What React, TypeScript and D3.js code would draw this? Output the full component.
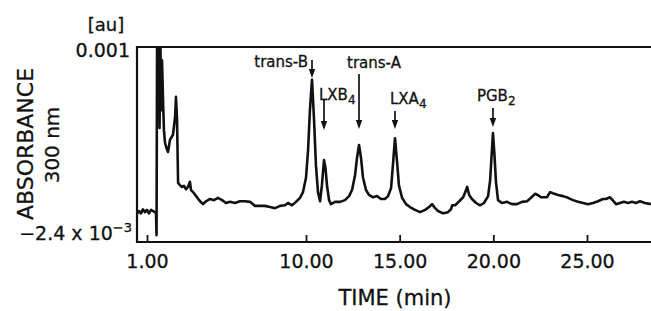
import React, { useRef, useEffect } from "react";
import * as d3 from "d3";

// chromatogram trace, time in min, absorbance in mAU (x10^-3 au)
const times = [
  0.43, 0.55, 0.66, 0.77, 0.89, 1.0, 1.11, 1.23, 1.34, 1.45, 1.51, 1.54, 1.57, 1.62, 1.67, 1.71, 1.76,
  1.81, 1.85, 1.91, 1.96, 2.02, 2.1, 2.19, 2.3, 2.47, 2.59, 2.64, 2.7, 2.76, 2.87, 2.98, 3.09, 3.21,
  3.32, 3.43, 3.49, 3.66, 3.83, 4.0, 4.17, 4.34, 4.57, 4.79, 5.02, 5.25, 5.47, 5.7, 5.98, 6.26, 6.55,
  6.83, 7.11, 7.4, 7.68, 7.96, 8.25, 8.53, 8.81, 8.98, 9.21, 9.43, 9.66, 9.83, 10.0, 10.11, 10.21,
  10.32, 10.43, 10.53, 10.64, 10.75, 10.85, 10.96, 11.04, 11.12, 11.23, 11.33, 11.55, 11.82, 12.08,
  12.3, 12.46, 12.62, 12.72, 12.83, 12.94, 13.04, 13.2, 13.36, 13.58, 13.79, 14.0, 14.21, 14.38,
  14.54, 14.64, 14.75, 14.86, 14.96, 15.13, 15.34, 15.55, 15.82, 16.09, 16.36, 16.57, 16.73, 16.89,
  17.05, 17.32, 17.58, 17.74, 17.8, 17.96, 18.18, 18.39, 18.55, 18.6, 18.71, 18.86, 19.08, 19.29,
  19.5, 19.72, 19.83, 19.91, 19.98, 20.06, 20.14, 20.25, 20.46, 20.73, 21.0, 21.26, 21.53, 21.8,
  22.01, 22.22, 22.38, 22.54, 22.7, 22.86, 23.03, 23.18, 23.45, 23.72, 23.99, 24.25, 24.52, 24.79,
  25.05, 25.32, 25.59, 25.85, 26.01, 26.23, 26.45, 26.55, 26.76, 26.97, 27.19, 27.4, 27.61, 27.83,
  28.09, 28.41,
];
const absorbance = [
  -1.91, -1.86, -1.9, -1.83, -1.88, -1.84, -1.9, -1.84, -1.86, -1.88, -1.9, -2.28, 1.12, -0.27, 1.03,
  -0.41, 1.03, -0.1, 0.77, 0.04, -0.45, -0.67, -0.76, -0.83, -0.62, -0.53, -0.22, 0.13, -0.27, -1.37,
  -1.41, -1.44, -1.42, -1.48, -1.44, -1.35, -1.49, -1.55, -1.62, -1.69, -1.74, -1.69, -1.65, -1.67,
  -1.63, -1.67, -1.72, -1.7, -1.72, -1.69, -1.69, -1.7, -1.77, -1.77, -1.77, -1.79, -1.81, -1.77,
  -1.76, -1.72, -1.76, -1.7, -1.63, -1.53, -1.28, -0.8, -0.1, 0.43, -0.27, -1.06, -1.53, -1.69,
  -1.41, -0.97, -1.11, -1.41, -1.67, -1.74, -1.7, -1.7, -1.67, -1.6, -1.49, -1.23, -0.94, -0.71,
  -0.94, -1.27, -1.49, -1.58, -1.62, -1.6, -1.65, -1.65, -1.6, -1.46, -1.06, -0.59, -1.0, -1.41,
  -1.63, -1.74, -1.79, -1.84, -1.88, -1.84, -1.79, -1.74, -1.81, -1.86, -1.9, -1.88, -1.83, -1.76,
  -1.76, -1.69, -1.62, -1.49, -1.44, -1.58, -1.65, -1.72, -1.76, -1.72, -1.6, -1.32, -0.88, -0.5,
  -0.88, -1.35, -1.67, -1.72, -1.7, -1.74, -1.74, -1.7, -1.69, -1.63, -1.56, -1.58, -1.62, -1.62,
  -1.62, -1.53, -1.55, -1.58, -1.6, -1.63, -1.67, -1.7, -1.72, -1.74, -1.72, -1.69, -1.65, -1.65,
  -1.62, -1.7, -1.74, -1.72, -1.7, -1.72, -1.7, -1.72, -1.69, -1.72, -1.74,
];

const xTickValues = [1, 10, 15, 20, 25];
const xTickLabels = ["1.00", "10.00", "15.00", "20.00", "25.00"];

const peakNames = ["trans-B", "LXB", "trans-A", "LXA", "PGB"];
const peakSubscripts = ["", "4", "", "4", "2"];
const peakTimes = [10.32, 10.96, 12.83, 14.75, 19.98];

const W = 651;
const H = 311;
const FONT = "'DejaVu Sans', sans-serif";
const INK = "#111";

const Chromatogram: React.FC = () => {
  const svgRef = useRef<SVGSVGElement | null>(null);

  useEffect(() => {
    if (!svgRef.current) return;
    const svg = d3.select(svgRef.current);
    svg.selectAll("*").remove();

    const margin = { top: 47, left: 137, bottom: 242, right: 651 };
    const innerW = margin.right - margin.left;
    const innerH = margin.bottom - margin.top;

    // the recorder axis is not linear before 10 min
    const x = d3.scaleLinear().domain([1, 10, 25]).range([10, 169, 450]);
    const y = d3.scaleLinear().domain([-2.4, 1.0]).range([innerH, 0]);

    const g = svg.append("g").attr("transform", `translate(${margin.left},${margin.top})`);

    g.append("clipPath").attr("id", "plotclip")
      .append("rect").attr("x", 0).attr("y", 0).attr("width", innerW).attr("height", innerH);

    // trace
    const pts: [number, number][] = times.map((t, i) => [t, absorbance[i]]);
    const line = d3.line<[number, number]>().x((d) => x(d[0])).y((d) => y(d[1]));
    g.append("path")
      .datum(pts)
      .attr("d", line)
      .attr("clip-path", "url(#plotclip)")
      .attr("fill", "none")
      .attr("stroke", INK)
      .attr("stroke-width", 2.6)
      .attr("stroke-linejoin", "round");

    // frame: top, left, bottom
    g.append("path")
      .attr("d", `M${innerW},0H0V${innerH}H${innerW}`)
      .attr("stroke", INK).attr("stroke-width", 2.2).attr("fill", "none");

    // x axis
    const ax = g.append("g")
      .attr("transform", `translate(0,${innerH})`)
      .call(
        d3.axisBottom(x)
          .tickValues(xTickValues)
          .tickSize(-7)
          .tickFormat((_, i) => xTickLabels[i])
      );
    ax.select(".domain").remove();
    ax.selectAll("line").attr("stroke", INK).attr("stroke-width", 1.8);
    ax.selectAll("text")
      .attr("font-family", FONT)
      .attr("font-size", 19)
      .attr("fill", INK)
      .attr("stroke", INK).attr("stroke-width", 0.3)
      .attr("y", 26)
      .attr("dy", 0);

    const label = (sel: d3.Selection<SVGTextElement, unknown, null, undefined>, size: number) =>
      sel.attr("font-family", FONT).attr("font-size", size)
        .attr("fill", INK).attr("stroke", INK).attr("stroke-width", 0.3);

    // y labels
    label(svg.append("text"), 19)
      .attr("x", 130).attr("y", 57)
      .attr("text-anchor", "end")
      .text(d3.format(".3f")(y.domain()[1] / 1000));
    const yMin = label(svg.append("text"), 19)
      .attr("x", 132).attr("y", 240)
      .attr("text-anchor", "end");
    yMin.append("tspan").text(`−${Math.abs(y.domain()[0])} x 10`);
    yMin.append("tspan").attr("dy", -8).attr("font-size", 13).text("−3");

    label(svg.append("text"), 18)
      .attr("x", 106).attr("y", 31)
      .attr("text-anchor", "middle")
      .text("[au]");

    label(svg.append("text"), 22)
      .attr("transform", "translate(33,144) rotate(-90)")
      .attr("text-anchor", "middle")
      .text("ABSORBANCE");
    label(svg.append("text"), 20)
      .attr("transform", "translate(59,145) rotate(-90)")
      .attr("text-anchor", "middle")
      .text("300 nm");

    label(svg.append("text"), 21)
      .attr("x", 395).attr("y", 305)
      .attr("text-anchor", "middle")
      .text("TIME (min)");

    // peak annotations: arrow tail/tip (px from top of plot), label offset and baseline
    const layout = [
      { tail: 13, tip: 31, dx: -4, anchor: "end", base: 20 },
      { tail: 53, tip: 83, dx: -5, anchor: "start", base: 53 },
      { tail: 27, tip: 82, dx: -12, anchor: "start", base: 21 },
      { tail: 64, tip: 82, dx: -5, anchor: "start", base: 57 },
      { tail: 61, tip: 80, dx: -16, anchor: "start", base: 54 },
    ];
    const ann = g.append("g");
    peakNames.forEach((name, i) => {
      const L = layout[i];
      const px = x(peakTimes[i]);
      ann.append("line")
        .attr("x1", px).attr("x2", px)
        .attr("y1", L.tail).attr("y2", L.tip - 6)
        .attr("stroke", INK).attr("stroke-width", 1.7);
      ann.append("path")
        .attr("d", `M${px - 3.2},${L.tip - 9}L${px + 3.2},${L.tip - 9}L${px},${L.tip}Z`)
        .attr("fill", INK);
      const t = label(ann.append("text"), 15)
        .attr("x", px + L.dx).attr("y", L.base)
        .attr("text-anchor", L.anchor);
      t.append("tspan").text(name);
      if (peakSubscripts[i]) {
        t.append("tspan").attr("dy", 4).attr("font-size", 12).text(peakSubscripts[i]);
      }
    });
  }, []);

  return (
    <svg
      ref={svgRef}
      width={W}
      height={H}
      style={{ position: "absolute", left: 0, top: 0, background: "#fff" }}
    />
  );
};

export default function App() {
  return <Chromatogram />;
}
